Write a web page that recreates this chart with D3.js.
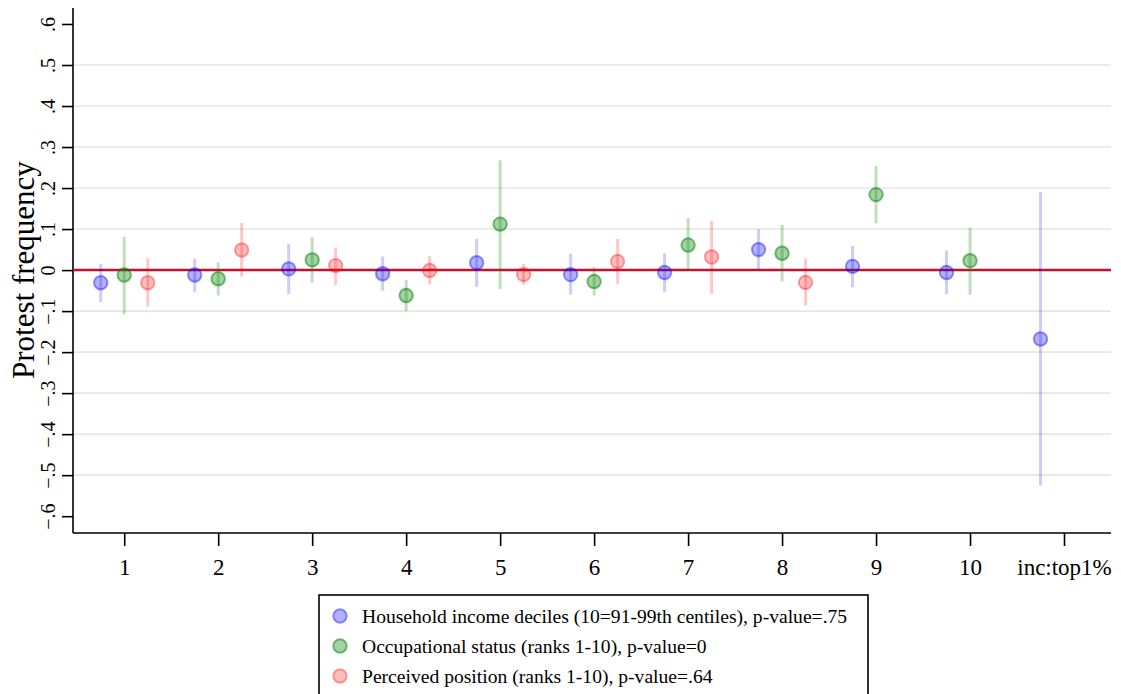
<!DOCTYPE html>
<html>
<head>
<meta charset="utf-8">
<script src="https://cdn.jsdelivr.net/npm/d3@7"></script>
<style>
  body { margin: 0; background: #fff; }
  svg { display: block; font-family: "Liberation Serif", "DejaVu Serif", serif; }
</style>
</head>
<body>
<div id="chart"></div>
<script>
/* DATA */
const categories = ["1", "2", "3", "4", "5", "6", "7", "8", "9", "10", "inc:top1%"];
const yTicks = [-0.6, -0.5, -0.4, -0.3, -0.2, -0.1, 0, 0.1, 0.2, 0.3, 0.4, 0.5, 0.6];

// household income deciles (last one = top 1%)
const incomeEst = [-0.031, -0.012, 0.003, -0.009, 0.018, -0.011, -0.006, 0.050, 0.009, -0.006, -0.168];
const incomeLo  = [-0.078, -0.054, -0.059, -0.050, -0.041, -0.060, -0.053, 0.002, -0.042, -0.059, -0.525];
const incomeHi  = [0.015, 0.028, 0.064, 0.033, 0.076, 0.040, 0.041, 0.100, 0.059, 0.048, 0.191];

// occupational status ranks 1-10
const occEst = [-0.012, -0.021, 0.025, -0.062, 0.112, -0.028, 0.061, 0.041, 0.184, 0.023];
const occLo  = [-0.108, -0.062, -0.030, -0.100, -0.046, -0.062, 0.000, -0.028, 0.114, -0.060];
const occHi  = [0.081, 0.019, 0.080, -0.024, 0.268, 0.007, 0.127, 0.110, 0.254, 0.104];

// perceived position, only ranks 1-8 shown
const percEst = [-0.031, 0.049, 0.011, -0.001, -0.011, 0.021, 0.032, -0.030];
const percLo  = [-0.089, -0.016, -0.036, -0.035, -0.036, -0.033, -0.058, -0.087];
const percHi  = [0.028, 0.115, 0.055, 0.034, 0.015, 0.076, 0.120, 0.028];

const seriesLabels = [
  "Household income deciles (10=91-99th centiles), p-value=.75",
  "Occupational status (ranks 1-10), p-value=0",
  "Perceived position (ranks 1-10), p-value=.64"
];

/* SERIES SETUP */
const series = [
  { est: incomeEst, lo: incomeLo, hi: incomeHi, offset: -0.25, ci: "rgba(0,0,255,0.2)", fill: "rgba(0,0,255,0.3)", stroke: "rgba(0,0,255,0.4)" },
  { est: occEst, lo: occLo, hi: occHi, offset: 0, ci: "rgba(0,128,0,0.25)", fill: "rgba(0,128,0,0.35)", stroke: "rgba(0,128,0,0.5)" },
  { est: percEst, lo: percLo, hi: percHi, offset: 0.25, ci: "rgba(255,0,0,0.22)", fill: "rgba(255,0,0,0.25)", stroke: "rgba(255,0,0,0.35)" }
];
series.forEach((s, i) => {
  s.label = seriesLabels[i];
  s.points = s.est.map((v, j) => ({ x: j + 1 + s.offset, y: v, lo: s.lo[j], hi: s.hi[j] }));
});

const width = 1121, height = 694;
const margin = { left: 73, right: 10, top: 8, bottom: 161 };

const svg = d3.select("#chart").append("svg")
  .attr("width", width)
  .attr("height", height);

// SCALES
const xScale = d3.scaleLinear()
  .domain([0.455, 11.5])
  .range([margin.left, width - margin.right]);

const yScale = d3.scaleLinear()
  .domain([-0.641, 0.639])
  .range([height - margin.bottom, margin.top]);

// gridlines (stata leaves out the end ones)
svg.append("g")
  .selectAll("line")
  .data(yTicks.filter(t => Math.abs(t) < 0.55 && t !== 0))
  .join("line")
  .attr("x1", margin.left)
  .attr("x2", width - margin.right)
  .attr("y1", d => yScale(d))
  .attr("y2", d => yScale(d))
  .attr("stroke", "#e6e6e6")
  .attr("stroke-width", 1.6);

// AXES
const yAxis = d3.axisLeft(yScale)
  .tickValues(yTicks)
  .tickSize(11)
  .tickFormat(d => d === 0 ? "0" : d3.format(".1f")(d).replace("0.", "."));

const yAxisGroup = svg.append("g")
  .attr("transform", `translate(${margin.left},0)`)
  .call(yAxis);
yAxisGroup.select(".domain")
  .attr("d", `M0,${margin.top}V${height - margin.bottom}`)
  .attr("stroke-width", 1.6);
yAxisGroup.selectAll(".tick line").attr("stroke-width", 1.6);
yAxisGroup.selectAll(".tick text")
  .attr("font-size", 20)
  .attr("font-family", "Liberation Serif")
  .attr("fill", "#000")
  .attr("transform", "rotate(-90)")
  .attr("x", 0)
  .attr("y", -18)
  .attr("dy", 0)
  .attr("text-anchor", "middle");

const xAxis = d3.axisBottom(xScale)
  .tickValues(d3.range(1, categories.length + 1))
  .tickSize(13)
  .tickPadding(13)
  .tickFormat(d => categories[d - 1]);

const xAxisGroup = svg.append("g")
  .attr("transform", `translate(0,${height - margin.bottom})`)
  .call(xAxis);
xAxisGroup.select(".domain")
  .attr("d", `M${margin.left},0H${width - margin.right}`)
  .attr("stroke-width", 1.6);
xAxisGroup.selectAll(".tick line").attr("stroke-width", 1.6);
xAxisGroup.selectAll(".tick text")
  .attr("font-size", 23)
  .attr("font-family", "Liberation Serif")
  .attr("fill", "#000");

// y axis title
svg.append("text")
  .attr("transform", `translate(34,${yScale(0)}) rotate(-90)`)
  .attr("text-anchor", "middle")
  .attr("font-size", 31)
  .text("Protest frequency");

// zero line
svg.append("line")
  .attr("x1", margin.left)
  .attr("x2", width - margin.right)
  .attr("y1", yScale(0))
  .attr("y2", yScale(0))
  .attr("stroke", "#c8102e")
  .attr("stroke-width", 2.5);

// CI lines and points
series.forEach(s => {
  const g = svg.append("g");
  g.selectAll("line.ci")
    .data(s.points)
    .join("line")
    .attr("class", "ci")
    .attr("x1", d => xScale(d.x))
    .attr("x2", d => xScale(d.x))
    .attr("y1", d => yScale(d.lo))
    .attr("y2", d => yScale(d.hi))
    .attr("stroke", s.ci)
    .attr("stroke-width", 3);
  g.selectAll("circle")
    .data(s.points)
    .join("circle")
    .attr("cx", d => xScale(d.x))
    .attr("cy", d => yScale(d.y))
    .attr("r", 6.7)
    .attr("fill", s.fill)
    .attr("stroke", s.stroke)
    .attr("stroke-width", 2);
});

// LEGEND
const legend = svg.append("g").attr("transform", "translate(319,595)");
legend.append("rect")
  .attr("width", 549)
  .attr("height", 120)
  .attr("fill", "#fff")
  .attr("stroke", "#000")
  .attr("stroke-width", 1.6);
const items = legend.selectAll("g.item")
  .data(series)
  .join("g")
  .attr("class", "item")
  .attr("transform", (d, i) => `translate(0,${21 + i * 30})`);
items.append("circle")
  .attr("cx", 21)
  .attr("cy", 0)
  .attr("r", 6.7)
  .attr("fill", d => d.fill)
  .attr("stroke", d => d.stroke)
  .attr("stroke-width", 2);
items.append("text")
  .attr("x", 43)
  .attr("y", 0)
  .attr("dy", "0.35em")
  .attr("font-size", 19.6)
  .text(d => d.label);
</script>
</body>
</html>
